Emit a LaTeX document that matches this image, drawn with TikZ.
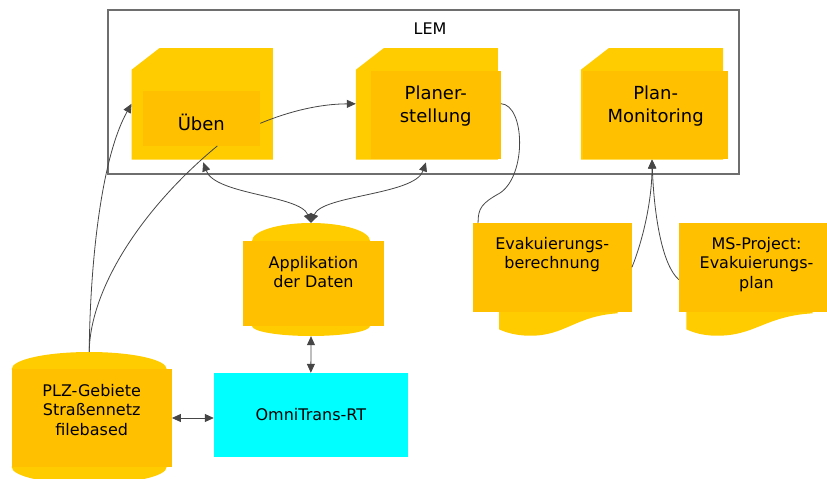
\documentclass[tikz,border=0pt]{standalone}
\usepackage{fontspec}
\setmainfont{DejaVu Sans}
\usepackage{xcolor}
\usetikzlibrary{arrows.meta,shapes.geometric}
\definecolor{cardback}{RGB}{255,204,0}
\definecolor{cardfront}{RGB}{255,192,0}
\definecolor{omnicyan}{RGB}{0,255,255}
\definecolor{linegray}{RGB}{70,70,70}
\definecolor{framegray}{RGB}{110,110,110}

\begin{document}
\begin{tikzpicture}[x=1pt,y=-1pt,
  >={Triangle[length=9pt,width=8pt]},
  conn/.style={color=linegray,line width=0.8pt},
  big/.style={font=\fontsize{18}{23}\selectfont},
  small/.style={font=\fontsize{16}{19.5}\selectfont},
  front/.style={fill=cardfront,inner sep=0pt,align=center},
  blank/.style={inner sep=0pt},
  lid/.style={ellipse,fill=cardback,inner sep=0pt}]
\useasboundingbox (0,0) rectangle (827,479);
\draw[color=framegray,line width=1.3pt] (108,10) rectangle (739,174);
\node[small] (lem) at (430,29) {LEM};

% backs of the cards in LEM
\node[blank,minimum width=141pt,minimum height=111pt] (uebenback) at (202.2,103.8) {};
\node[blank,minimum width=141.7pt,minimum height=111pt] (planback) at (426.85,103.8) {};
\node[blank,minimum width=142pt,minimum height=111pt] (monitorback) at (652,103.8) {};
\foreach \c in {uebenback,planback,monitorback}
  \fill[cardback] ([xshift=28pt]\c.north west) -- (\c.north east) -- (\c.south east)
    -- (\c.south west) -- ([yshift=-21.7pt]\c.north west) -- cycle;
\node[front,big,minimum width=117.3pt,text height=40pt,text depth=15pt] (ueben) at (201.35,118.2) {Üben};
\node[front,big,minimum width=130pt,text height=51pt,text depth=37.3pt] (plan) at (435.7,115.15) {Planer-\\stellung};
\node[front,big,minimum width=144.7pt,text height=51pt,text depth=37.3pt] (monitor) at (655.65,115.15) {Plan-\\Monitoring};

% data stores
\node[lid,minimum width=118pt,minimum height=36pt] (appltop) at (311,241) {};
\node[lid,minimum width=118pt,minimum height=20pt] (applbottom) at (311,326) {};
\node[front,small,minimum width=141pt,text height=46.5pt,text depth=38.5pt] (appl) at (313.5,283.5) {Applikation\\der Daten};
\node[lid,minimum width=155pt,minimum height=34pt] (plztop) at (89.2,369) {};
\node[lid,minimum width=155pt,minimum height=34pt] (plzbottom) at (89.2,467) {};
\node[front,small,minimum width=160pt,text height=66pt,text depth=32pt] (plz) at (91.7,418) {PLZ-Gebiete\\Straßennetz\\filebased};
\node[fill=omnicyan,small,minimum width=193.7pt,minimum height=84pt] (omni) at (310.85,415) {OmniTrans-RT};

% documents
\fill[cardback] (499,300) -- (617.7,300) -- (617.7,313.3) .. controls (575,316) and (565,336) .. (530,335.7)
  .. controls (515,335.7) and (505,332) .. (499,329.3) -- cycle;
\fill[cardback] (686.3,300) -- (812.7,300) -- (812.7,313.3) .. controls (765,316) and (755,336) .. (716.7,335.7)
  .. controls (702,335.7) and (692,332) .. (686.3,329.3) -- cycle;
\node[front,small,minimum width=159pt,text height=45.5pt,text depth=43.2pt] (evak) at (552.2,267.35) {Evakuierungs-\\berechnung};
\node[front,small,minimum width=155pt,text height=65pt,text depth=23.7pt] (msproj) at (756.5,267.35) {MS-Project:\\Evakuierungs-\\plan};

% connectors
\draw[conn,->] (plztop.north) .. controls (90,270) and (100,160) .. (uebenback.west);
\draw[conn] (plztop.north) .. controls (90,290) and (140,210) .. (ueben.300);
\draw[conn,->] (ueben.-5) .. controls (290,111) and (320,104) .. (planback.west);
\draw[conn,<->,shorten >=3pt] (appltop.north) .. controls (300,195) and (215,195) .. (uebenback.south);
\draw[conn,<->,shorten >=3pt] (appltop.north) .. controls (322,195) and (415,195) .. (planback.south);
\draw[conn] (plan.10) .. controls (525,105) and (527,175) .. (500,193)
  .. controls (482,203) and (478,208) .. (evak.149);
\draw[conn,->] (evak.east) .. controls (643,240) and (652,200) .. (monitorback.south);
\draw[conn,->] (msproj.189) .. controls (662,265) and (654,215) .. (monitorback.south);
\draw[conn,<->] (applbottom.south) -- (omni.north);
\draw[conn,<->] (plz.east) -- (plz.east -| omni.west);
\end{tikzpicture}
\end{document}
